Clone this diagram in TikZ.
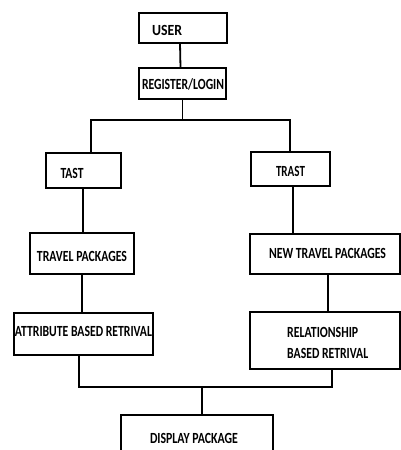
\documentclass[tikz,border=0pt]{standalone}
\usepackage{fontspec}
\setmainfont{Carlito}
\usepackage{graphicx}
\tikzset{
  box/.style={draw=black, line width=1.8pt, rectangle, inner sep=0pt, outer sep=0pt},
  lbl/.style={inner sep=0pt, font=\fontsize{15.5}{18}\selectfont\bfseries, anchor=center},
  conn/.style={draw=black, line width=1.8pt}
}
\newcommand{\fitw}[2]{\resizebox{#1}{\height}{#2}}
\begin{document}
\begin{tikzpicture}[x=1pt,y=-1pt]
\useasboundingbox (0,0) rectangle (401,450);
\clip (0,0) rectangle (401,450);
% boxes
\node[box, minimum width=88pt, minimum height=30pt] (user) at (183,28) {};
\node[box, minimum width=87pt, minimum height=31pt] (reg) at (182.5,83.5) {};
\node[box, minimum width=75pt, minimum height=35pt] (tast) at (83.5,170.5) {};
\node[box, minimum width=79pt, minimum height=34pt] (trast) at (290.5,169) {};
\node[box, minimum width=104pt, minimum height=41pt] (travel) at (82,253.5) {};
\node[box, minimum width=150pt, minimum height=40pt] (newtravel) at (325,254) {};
\node[box, minimum width=139pt, minimum height=42pt] (attr) at (83.5,334) {};
\node[box, minimum width=150pt, minimum height=57pt] (rel) at (325,340.5) {};
\node[box, minimum width=152pt, minimum height=60pt] (disp) at (197,445) {};
% labels
\node[lbl] (tuser) at (167,30) {\fitw{30pt}{USER}};
\node[lbl] (treg) at (183,84) {\fitw{82pt}{REGISTER/LOGIN}};
\node[lbl] (ttast) at (72,173) {\fitw{23pt}{TAST}};
\node[lbl] (ttrast) at (290.5,171) {\fitw{29pt}{TRAST}};
\node[lbl] (ttravel) at (82,256) {\fitw{90pt}{TRAVEL PACKAGES}};
\node[lbl] (tnew) at (327.5,253) {\fitw{117pt}{NEW TRAVEL PACKAGES}};
\node[lbl] (tattr) at (83.5,331) {\fitw{137pt}{ATTRIBUTE BASED RETRIVAL}};
\node[lbl, anchor=west] (trel1) at (287,332) {\fitw{71pt}{RELATIONSHIP}};
\node[lbl, anchor=west] (trel2) at (287,353) {\fitw{81pt}{BASED RETRIVAL}};
\node[lbl] (tdisp) at (194,438) {\fitw{88pt}{DISPLAY PACKAGE}};
% junction points
\coordinate (j1) at (182,120);
\coordinate (j2) at (202,387);
% connectors
\draw[conn] ([xshift=-3pt]user.south) -- ([xshift=-2.5pt]user.south |- reg.north);
\draw[conn] (reg.south) -- (reg.south |- j1);
\draw[conn] (tast.north -| 91,0) |- (j1) -| (trast.north -| 290,0);
\draw[conn] ([xshift=-0.5pt]tast.south) -- ([xshift=-0.5pt]tast.south |- travel.north);
\draw[conn] ([xshift=2.5pt]trast.south) -- ([xshift=2.5pt]trast.south |- newtravel.north);
\draw[conn] ([xshift=0pt]travel.south) -- ([xshift=0pt]travel.south |- attr.north);
\draw[conn] ([xshift=3pt]newtravel.south) -- ([xshift=3pt]newtravel.south |- rel.north);
\draw[conn] ([xshift=-4.5pt]attr.south) |- (j2) -| ([xshift=7pt]rel.south);
\draw[conn] (j2) -- (j2 |- disp.north);
\end{tikzpicture}
\end{document}
